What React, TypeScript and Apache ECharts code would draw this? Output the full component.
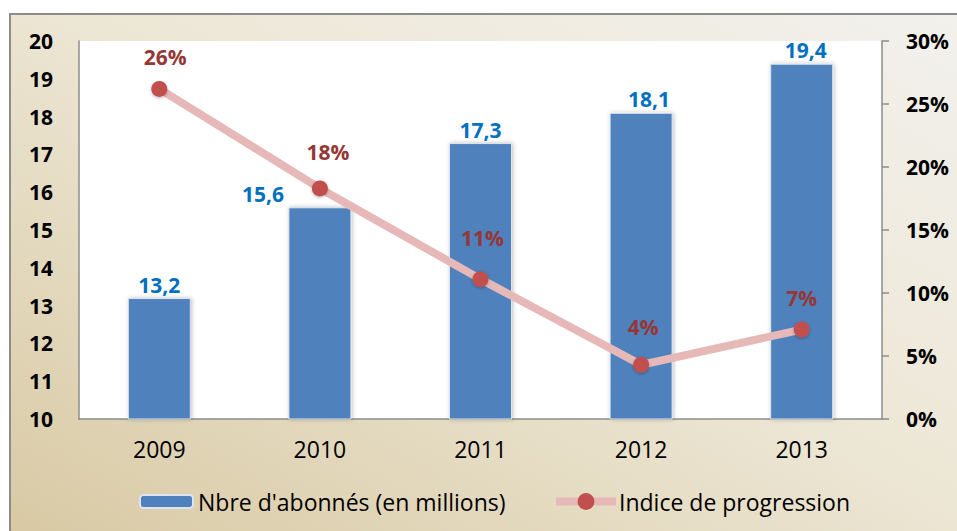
import React, { useEffect, useRef } from "react";
import * as echarts from "echarts";

const categories = ["2009", "2010", "2011", "2012", "2013"];
const subscribers = [13.2, 15.6, 17.3, 18.1, 19.4];
const progression = [0.262, 0.183, 0.111, 0.043, 0.071];
const seriesNames = ["Nbre d'abonnés (en millions)", "Indice de progression"];
const leftRange = { min: 10, max: 20, interval: 1 };
const rightRange = { min: 0, max: 0.3, interval: 0.05 };

const FONT = "'Open Sans', Lato, sans-serif";

export default function App() {
  const ref = useRef<HTMLDivElement>(null);
  useEffect(() => {
    if (!ref.current) return;
    const chart = echarts.init(ref.current, undefined, { renderer: "svg" });
    const barLabelOffsets: Record<number, number[]> = { 1: [-57, 0], 3: [8, 0], 4: [4, 0] };
    const lineLabelOffsets: Record<number, number[]> = { 0: [6, 0], 1: [8, -5], 2: [2, -10], 3: [2, -6] };
    chart.setOption({
      animation: false,
      textStyle: { fontFamily: FONT },
      graphic: [
        {
          type: "rect",
          z: -10,
          silent: true,
          shape: { x: 10, y: 14, width: 960, height: 530 },
          style: {
            fill: new echarts.graphic.LinearGradient(0, 1, 1, 0, [
              { offset: 0, color: "#D8C9A3" },
              { offset: 0.55, color: "#EDE7D6" },
              { offset: 1, color: "#F2F1ED" },
            ]),
            stroke: "#8C8C8C",
            lineWidth: 2,
          },
        },
      ],
      grid: {
        left: 79,
        top: 41,
        right: 75,
        bottom: 112,
        show: true,
        backgroundColor: "#FFFFFF",
        borderWidth: 0,
        containLabel: false,
      },
      legend: [
        {
          left: 139,
          top: 490,
          padding: 0,
          itemWidth: 53,
          itemHeight: 13,
          textStyle: { fontSize: 23, color: "#000", fontFamily: FONT },
          data: [seriesNames[0]],
        },
        {
          left: 552,
          top: 490,
          padding: 0,
          itemWidth: 60,
          itemHeight: 21,
          lineStyle: { width: "inherit" },
          textStyle: { fontSize: 23, color: "#000", fontFamily: FONT, padding: [0, 0, 0, -2] },
          data: [seriesNames[1]],
        },
      ],
      xAxis: {
        type: "category",
        data: categories,
        axisLine: { show: true, lineStyle: { color: "#8C8C8C", width: 1.5 } },
        axisTick: { show: false },
        axisLabel: { color: "#000", fontSize: 23, margin: 18, fontFamily: FONT },
      },
      yAxis: [
        {
          type: "value",
          min: leftRange.min,
          max: leftRange.max,
          interval: leftRange.interval,
          axisLine: { show: true, lineStyle: { color: "#8C8C8C", width: 1.5 } },
          axisTick: { show: false },
          splitLine: { show: false },
          axisLabel: { color: "#000", fontSize: 21, fontWeight: "bold", margin: 26, fontFamily: FONT },
        },
        {
          type: "value",
          min: rightRange.min,
          max: rightRange.max,
          interval: rightRange.interval,
          position: "right",
          axisLine: { show: true, lineStyle: { color: "#8C8C8C", width: 1.5 } },
          axisTick: { show: true, length: 7, lineStyle: { color: "#8C8C8C", width: 1.5 } },
          splitLine: { show: false },
          axisLabel: {
            color: "#000",
            fontSize: 21,
            fontWeight: "bold",
            margin: 24,
            fontFamily: FONT,
            formatter: (v: number) => Math.round(v * 100) + "%",
          },
        },
      ],
      series: [
        {
          name: seriesNames[0],
          type: "bar",
          yAxisIndex: 0,
          barWidth: 63,
          data: subscribers.map((v, i) => ({
            value: v,
            label: barLabelOffsets[i] ? { offset: barLabelOffsets[i] } : undefined,
          })),
          itemStyle: {
            color: "#4F81BD",
            borderColor: "#DDE4EE",
            borderWidth: 1,
            shadowColor: "rgba(0,0,0,0.25)",
            shadowBlur: 4,
            shadowOffsetX: 1,
            shadowOffsetY: 0,
          },
          label: {
            show: true,
            position: "top",
            distance: 3,
            color: "#0070C0",
            fontSize: 21,
            fontWeight: "bold",
            fontFamily: FONT,
            formatter: (p: any) => String(p.value).replace(".", ","),
          },
        },
        {
          name: seriesNames[1],
          type: "line",
          yAxisIndex: 1,
          data: progression.map((v, i) => ({
            value: v,
            label: lineLabelOffsets[i] ? { offset: lineLabelOffsets[i] } : undefined,
          })),
          symbol: "circle",
          symbolSize: 16,
          lineStyle: { color: "#E6B9B8", width: 8 },
          itemStyle: {
            color: "#C0504D",
            shadowColor: "rgba(0,0,0,0.3)",
            shadowBlur: 3,
            shadowOffsetY: 1,
          },
          label: {
            show: true,
            position: "top",
            distance: 13,
            color: "#953735",
            fontSize: 21,
            fontWeight: "bold",
            fontFamily: FONT,
            formatter: (p: any) => Math.round(p.value * 100) + "%",
          },
        },
      ],
    });
    return () => chart.dispose();
  }, []);
  return (
    <div
      ref={ref}
      style={{ position: "absolute", left: 0, top: 0, width: 957, height: 531, background: "#FFFFFF" }}
    />
  );
}
